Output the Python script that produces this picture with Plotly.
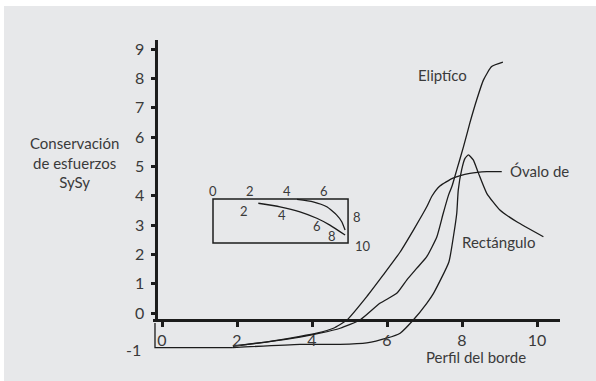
import plotly.graph_objects as go

# Axis ticks
x_ticks = [0, 2, 4, 6, 8, 10]
y_ticks = [0, 1, 2, 3, 4, 5, 6, 7, 8, 9]

# Stress conservation curves along the edge profile
eliptico_x = [1.89, 2.77, 3.68, 4.21, 4.75, 5.28, 5.81, 6.26, 6.53, 6.79, 7.06,
              7.33, 7.50, 7.64, 7.73, 7.86, 8.04, 8.21, 8.39, 8.57, 8.79, 9.09]
eliptico_y = [-1.13, -0.99, -0.82, -0.69, -0.52, -0.24, 0.33, 0.67, 1.13, 1.52, 1.92,
              2.60, 3.40, 4.02, 4.31, 4.88, 5.67, 6.48, 7.26, 7.94, 8.40, 8.55]

ovalo_x = [1.89, 2.77, 3.68, 4.13, 4.57, 4.93, 5.46, 5.90, 6.35, 6.72, 7.06,
           7.20, 7.41, 7.76, 8.21, 8.66, 9.06]
ovalo_y = [-1.13, -0.99, -0.80, -0.69, -0.52, -0.24, 0.56, 1.30, 2.08, 2.86, 3.62,
           3.99, 4.33, 4.60, 4.76, 4.82, 4.82]

rect_x = [1.89, 3.68, 4.75, 5.46, 5.99, 6.35, 6.70, 7.06, 7.24, 7.65, 7.77,
          7.86, 7.90, 7.99, 8.08, 8.17, 8.30, 8.44, 8.66, 9.01, 9.46, 10.17]
rect_y = [-1.18, -1.07, -1.07, -1.02, -0.86, -0.69, -0.24, 0.33, 0.67, 1.74, 2.60,
          3.40, 4.19, 4.88, 5.27, 5.39, 5.22, 4.76, 4.08, 3.51, 3.11, 2.60]

# Inset: section outline with perimeter positions (units along the edge / depth)
inset_w, inset_h = 7.3, 2.38
inset_a_x = [2.45, 3.62, 4.70, 5.61, 6.32, 7.14]
inset_a_y = [0.23, 0.42, 0.69, 1.04, 1.41, 1.95]
inset_b_x = [4.54, 5.41, 6.15, 6.69, 6.96, 7.14]
inset_b_y = [0.02, 0.15, 0.42, 0.87, 1.23, 1.68]
inset_top_labels = ["0", "2", "4", "6"]
inset_side_labels = ["8", "10"]
inset_inner_labels = ["2", "4", "6", "8"]

INK = "#1c1c1c"
TEXT = "#3a3a3a"
FONT = "Lato"

fig = go.Figure()

line_style = dict(color=INK, width=1.3, shape="spline", smoothing=0.5)
for xs, ys in [(eliptico_x, eliptico_y), (ovalo_x, ovalo_y), (rect_x, rect_y)]:
    fig.add_trace(go.Scatter(x=xs, y=ys, mode="lines", line=line_style,
                             hoverinfo="skip", xaxis="x", yaxis="y"))

for xs, ys in [(inset_a_x, inset_a_y), (inset_b_x, inset_b_y)]:
    fig.add_trace(go.Scatter(x=xs, y=ys, mode="lines", line=line_style,
                             hoverinfo="skip", xaxis="x2", yaxis="y2"))

annotations = []

def note(text, x, y, xref="x", yref="y", size=15, xanchor="center", yanchor="middle",
         align="center"):
    annotations.append(dict(text=text, x=x, y=y, xref=xref, yref=yref, showarrow=False,
                            xanchor=xanchor, yanchor=yanchor, align=align,
                            font=dict(family=FONT, size=size, color=TEXT)))

# Curve names and axis titles
note("Eliptíco", 7.48, 8.12)
note("Óvalo de", 9.23, 4.84, xanchor="left")
note("Rectángulo", 8.97, 2.42)
note("Perfil del borde", 8.37, -1.50)
note("Conservación<br>de esfuerzos<br>SySy", -0.192, 5.13, xref="paper", size=15)
note("-1", -0.024, -1.23, xref="paper", size=16, xanchor="right")

# Inset numbering
for t in inset_top_labels:
    note(t, float(t), -0.43, xref="x2", yref="y2", size=13)
note(inset_side_labels[0], 7.78, 0.97, xref="x2", yref="y2", size=13)
note(inset_side_labels[1], 8.11, 2.54, xref="x2", yref="y2", size=13)
for t, px, py in zip(inset_inner_labels, [1.68, 3.73, 5.62, 6.43], [0.65, 0.87, 1.46, 2.0]):
    note(t, px, py, xref="x2", yref="y2", size=13)

shapes = [
    # page panel
    dict(type="rect", xref="paper", yref="paper", x0=-0.366, x1=1.2, y0=-0.2, y1=1.088,
         fillcolor="#e7e8ea", line=dict(width=0), layer="below"),
    # vertical axis line
    dict(type="line", xref="x", yref="y", x0=-0.147, x1=-0.147, y0=-0.24, y1=9.31,
         line=dict(color=INK, width=3)),
    # bracket under the horizontal axis
    dict(type="path", xref="x", yref="y", path="M -0.187,-0.34 L -0.187,-1.18 L 1.89,-1.18",
         line=dict(color=INK, width=1.3)),
    # inset outline
    dict(type="rect", xref="x2", yref="y2", x0=0, x1=inset_w, y0=0, y1=inset_h,
         line=dict(color=INK, width=1.5)),
]

fig.update_layout(
    width=596, height=381, autosize=False,
    margin=dict(l=153, r=36, t=35, b=16),
    paper_bgcolor="white", plot_bgcolor="rgba(0,0,0,0)",
    showlegend=False,
    annotations=annotations, shapes=shapes,
    xaxis=dict(range=[-0.24, 10.613], anchor="free", position=0.136,
               showline=True, linewidth=3, linecolor=INK,
               ticks="outside", ticklen=5, tickwidth=3, tickcolor=INK,
               tickvals=x_ticks, showgrid=False, zeroline=False,
               tickfont=dict(family=FONT, size=16, color=TEXT)),
    yaxis=dict(range=[-1.773, 9.478], anchor="free", position=0.0086,
               showline=False, ticks="outside", ticklen=6, tickwidth=3, tickcolor=INK,
               tickvals=y_ticks, showgrid=False, zeroline=False,
               ticklabelstandoff=3,
               tickfont=dict(family=FONT, size=16, color=TEXT)),
    xaxis2=dict(domain=[0.10197, 0.55651], range=[-1, 9], anchor="y2", visible=False),
    yaxis2=dict(domain=[0.32364, 0.57030], range=[3.2, -1.2], anchor="x2", visible=False),
)

fig.write_html("out.html")
